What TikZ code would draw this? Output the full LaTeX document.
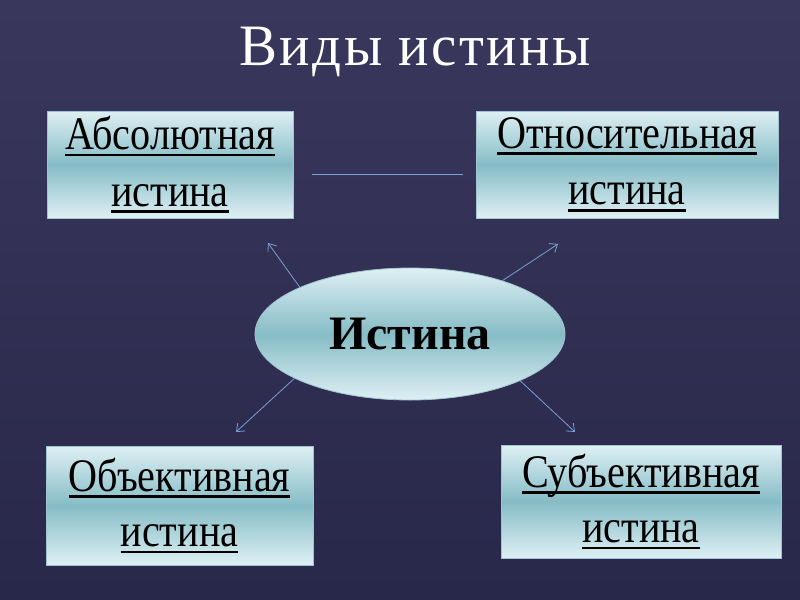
\documentclass[tikz,border=0pt]{standalone}
\usepackage{fontspec}
\setmainfont{Liberation Serif}
\newfontfamily\narrowserif[FakeStretch=0.86]{Liberation Serif}
\newfontfamily\titleserif[FakeStretch=0.97,LetterSpace=4]{Liberation Serif}
\usetikzlibrary{shapes.geometric,arrows.meta}

\definecolor{slidetop}{RGB}{58,55,92}
\definecolor{slidebot}{RGB}{40,40,74}
\definecolor{boxlight}{RGB}{222,240,244}
\definecolor{boxmid}{RGB}{134,188,198}
\definecolor{boxline}{RGB}{160,196,206}
\definecolor{linkblue}{RGB}{120,160,210}

% thick underline as on the slide
\newcommand{\ulword}[1]{\setbox0=\hbox{#1}\leavevmode\rlap{\rule[-5pt]{\wd0}{2pt}}\box0}

\tikzset{
  kindbox/.style={rectangle, draw=boxline, line width=0.6pt, top color=boxlight, bottom color=boxlight, middle color=boxmid, align=center, inner sep=0pt, font=\narrowserif\fontsize{35}{37.5}\selectfont},
  mainoval/.style={ellipse, draw=boxline, line width=0.6pt, top color=boxlight, bottom color=boxlight, middle color=boxmid, inner sep=0pt, minimum width=232.5pt, minimum height=99pt, font=\bfseries\fontsize{36}{36}\selectfont},
  link/.style={draw=linkblue, line width=0.6pt},
  arr/.style={link, -{Straight Barb[length=5pt,width=8pt]}}
}

\begin{document}
\begin{tikzpicture}[x=0.75pt,y=0.75pt,yscale=-1,xscale=1]
  \shade[top color=slidetop, bottom color=slidebot] (0,0) rectangle (800,600);
  \useasboundingbox (0,0) rectangle (800,600);

  \node[text=white, font=\titleserif\fontsize{44}{44}\selectfont] (title) at (415,52) {Виды истины};

  \node[kindbox, minimum width=184.5pt, minimum height=80.25pt] (abs) at (170,164.5) {\ulword{Абсолютная}\\[5pt]\ulword{истина}};
  \node[kindbox, minimum width=226.5pt, minimum height=80.25pt] (otn) at (627,164.5) {\ulword{Относительная}\\[5pt]\ulword{истина}};
  \node[kindbox, minimum width=200.25pt, minimum height=89.25pt] (obj) at (179.5,505.5) {\ulword{Объективная}\\[4pt]\ulword{истина}};
  \node[kindbox, minimum width=210pt, minimum height=84.75pt] (sub) at (641,501.5) {\ulword{Субъективная}\\[4pt]\ulword{истина}};

  \node[mainoval] (ist) at (410,334) {Истина};

  \coordinate (l1) at (312,174);
  \coordinate (l2) at (463,174);
  \draw[link] (l1) -- (l2);

  \coordinate (tipa) at (268,243);
  \coordinate (tipo) at (558,244);
  \coordinate (tipb) at (236,432);
  \coordinate (tips) at (575,432);
  \draw[arr] (ist.157) -- (tipa);
  \draw[arr] (ist.30) -- (tipo);
  \draw[arr] (ist.201) -- (tipb);
  \draw[arr] (ist.-23) -- (tips);
\end{tikzpicture}
\end{document}
